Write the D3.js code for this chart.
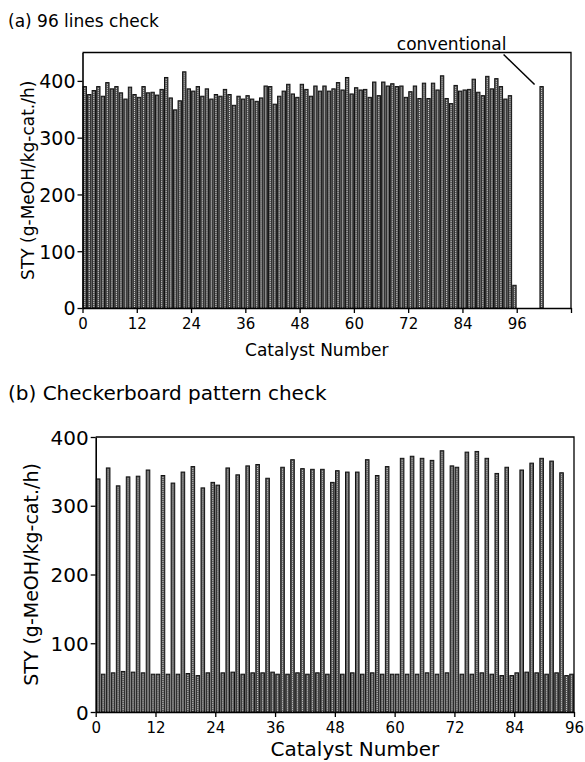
<!DOCTYPE html>
<html>
<head>
<meta charset="utf-8">
<script src="https://cdn.jsdelivr.net/npm/d3@7"></script>
<style>
    body { margin: 0; background: #fff; }
    svg text { font-family: "DejaVu Sans", sans-serif; fill: #000; }
</style>
</head>
<body>
<svg id="chart" width="585" height="762"></svg>
<script>
// (a) 96 lines check, STY per catalyst 1..96
const topValues = [
    390, 376, 383, 390, 373, 397, 386, 390, 379, 368, 389, 376, 371, 390, 379, 380,
    375, 385, 406, 370, 349, 365, 416, 386, 382, 390, 373, 386, 368, 376, 373, 385,
    376, 357, 373, 368, 374, 368, 364, 370, 391, 390, 359, 373, 382, 394, 377, 371,
    394, 385, 373, 391, 382, 391, 382, 386, 397, 384, 406, 377, 388, 384, 385, 371,
    398, 374, 398, 391, 395, 390, 391, 371, 381, 391, 369, 396, 369, 396, 384, 409,
    369, 360, 392, 382, 384, 385, 403, 380, 374, 408, 386, 404, 390, 368, 374, 40
];
const conventional = [{ catalyst: 101, value: 390 }];

// (b) checkerboard pattern check
const checkerValues = [
    339, 55, 355, 57, 329, 59, 342, 58, 343, 57, 352, 55,
    55, 344, 55, 333, 55, 349, 56, 357, 53, 326, 57, 334,
    330, 57, 355, 58, 345, 55, 358, 57, 360, 57, 340, 58,
    55, 356, 55, 367, 57, 354, 55, 353, 57, 353, 55, 334,
    351, 55, 349, 57, 349, 55, 367, 57, 344, 55, 357, 55,
    55, 369, 55, 372, 55, 369, 57, 366, 55, 380, 57, 358,
    356, 55, 378, 55, 379, 57, 369, 55, 347, 53, 356, 53,
    57, 352, 58, 362, 57, 369, 55, 365, 57, 348, 53, 55
];

const yTicks = [0, 100, 200, 300, 400];
const xTicksTop = [0, 12, 24, 36, 48, 60, 72, 84, 96, 108];
const xTicksBottom = [0, 12, 24, 36, 48, 60, 72, 84, 96];

const svg = d3.select('#chart');

function drawBars(g, data, x, y, widthFrac) {
    const step = x(1) - x(0);
    const bw = step * widthFrac;
    const bars = g.append('g').selectAll('g').data(data).join('g');
    bars.append('rect')
        .attr('x', d => x(d.catalyst + 0.5) - bw / 2)
        .attr('y', d => y(d.value))
        .attr('width', bw)
        .attr('height', d => y(0) - y(d.value))
        .attr('fill', '#585858')
        .attr('stroke', '#111')
        .attr('stroke-width', 1);
    bars.append('line')
        .attr('x1', d => x(d.catalyst + 0.5))
        .attr('x2', d => x(d.catalyst + 0.5))
        .attr('y1', d => y(d.value) + 1.5)
        .attr('y2', y(0))
        .attr('stroke', '#d0d0d0')
        .attr('stroke-width', 1)
        .attr('stroke-dasharray', '1,1');
}

function drawPanel(p) {
    const x = d3.scaleLinear().domain(p.xDomain).range([p.left, p.right]);
    const y = d3.scaleLinear().domain(p.yDomain).range([p.bottom, p.top]);
    const g = svg.append('g');

    drawBars(g, p.bars, x, y, p.barFrac);

    // frame (top and right)
    g.append('path')
        .attr('d', `M${p.left},${p.top}H${p.right}V${p.bottom}`)
        .attr('fill', 'none')
        .attr('stroke', '#000')
        .attr('stroke-width', 1.3);

    const yAxis = g.append('g')
        .attr('transform', `translate(${p.left},0)`)
        .call(d3.axisLeft(y).tickValues(yTicks).tickSize(5).tickPadding(2).tickSizeOuter(0));
    yAxis.selectAll('text').attr('font-size', p.yFont).attr('dy', '0.36em');

    const xAxis = g.append('g')
        .attr('transform', `translate(0,${p.bottom})`)
        .call(d3.axisBottom(x).tickValues(p.xTicks).tickSize(5).tickPadding(5).tickSizeOuter(0)
            .tickFormat(d => d > 96 ? '' : d));
    xAxis.selectAll('text').attr('font-size', p.xFont);

    [yAxis, xAxis].forEach(a => {
        a.select('.domain').attr('stroke-width', 1.6);
        a.selectAll('.tick line').attr('stroke-width', 1.3);
    });

    g.append('text')
        .attr('x', (p.left + p.right) / 2 - p.titleShift)
        .attr('y', p.xTitleY)
        .attr('text-anchor', 'middle')
        .attr('font-size', p.xTitleFont)
        .text('Catalyst Number');

    g.append('text')
        .attr('transform', `translate(${p.yTitleX},${(p.top + p.bottom) / 2}) rotate(-90)`)
        .attr('text-anchor', 'middle')
        .attr('font-size', p.yTitleFont)
        .text('STY (g-MeOH/kg-cat./h)');

    g.append('text')
        .attr('x', 8)
        .attr('y', p.labelY)
        .attr('font-size', p.labelFont)
        .text(p.label);

    return { x, y, g };
}

const topPanel = drawPanel({
    left: 82.5, right: 571, top: 52.5, bottom: 308,
    xDomain: [0, 108], yDomain: [0, 450],
    xTicks: xTicksTop,
    bars: topValues.map((v, i) => ({ catalyst: i, value: v }))
        .concat(conventional),
    barFrac: 0.74,
    yFont: 19, xFont: 15, xTitleFont: 17, yTitleFont: 17,
    xTitleY: 356, yTitleX: 34, titleShift: 10,
    label: '(a) 96 lines check', labelY: 27, labelFont: 17
});

// leader to the conventional catalyst
const c = conventional[0];
topPanel.g.append('line')
    .attr('x1', topPanel.x(c.catalyst + 0.5) - 38)
    .attr('y1', topPanel.y(c.value) - 32)
    .attr('x2', topPanel.x(c.catalyst + 0.5) - 7)
    .attr('y2', topPanel.y(c.value) - 2)
    .attr('stroke', '#000')
    .attr('stroke-width', 1.5);
topPanel.g.append('text')
    .attr('x', topPanel.x(c.catalyst + 0.5) - 90)
    .attr('y', topPanel.y(c.value) - 37)
    .attr('text-anchor', 'middle')
    .attr('font-size', 17)
    .text('conventional');

drawPanel({
    left: 95.7, right: 574, top: 437, bottom: 712,
    xDomain: [0, 96], yDomain: [0, 400],
    xTicks: xTicksBottom,
    bars: checkerValues.map((v, i) => ({ catalyst: i, value: v })),
    barFrac: 0.72,
    yFont: 20, xFont: 15, xTitleFont: 20, yTitleFont: 19,
    xTitleY: 756, yTitleX: 38, titleShift: -20,
    label: '(b) Checkerboard pattern check', labelY: 400, labelFont: 20
});
</script>
</body>
</html>
